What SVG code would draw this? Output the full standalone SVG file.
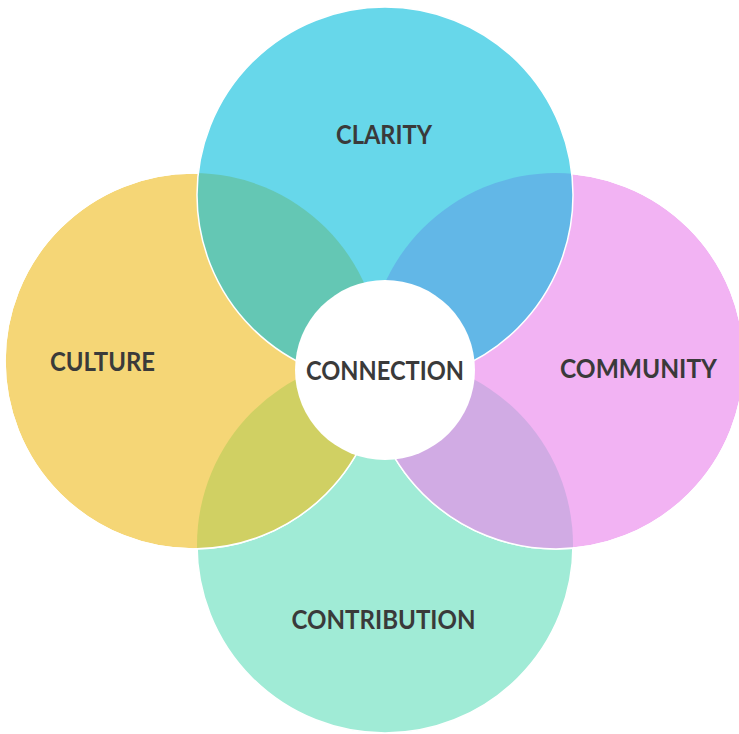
<svg xmlns="http://www.w3.org/2000/svg" width="739" height="734" viewBox="0 0 739 734">
  <defs>
    <style>
      .label { font-family: "Lato", "Open Sans", "Liberation Sans", sans-serif; font-weight: 700; font-size: 26px; fill: #3a3a3a; text-anchor: middle; }
      .edge { fill: none; stroke: #ffffff; stroke-width: 1.5; }
    </style>
    <!-- circle outlines reused for fills, clips and edges -->
    <circle id="c-top" cx="385" cy="195" r="188"/>
    <circle id="c-left" cx="193" cy="361" r="188"/>
    <circle id="c-right" cx="556" cy="361" r="188"/>
    <circle id="c-bottom" cx="385" cy="545" r="188"/>
    <clipPath id="clip-top"><use href="#c-top"/></clipPath>
    <clipPath id="clip-left"><use href="#c-left"/></clipPath>
    <clipPath id="clip-right"><use href="#c-right"/></clipPath>
    <clipPath id="clip-bottom"><use href="#c-bottom"/></clipPath>
  </defs>

  <rect width="739" height="734" fill="#ffffff"/>

  <!-- CONTRIBUTION (lowest layer) -->
  <g id="contribution">
    <use href="#c-bottom" fill="#a0ebd6" stroke="#ffffff" stroke-width="1.5"/>
    <text class="label" x="383.5" y="629" textLength="184" lengthAdjust="spacingAndGlyphs">CONTRIBUTION</text>
  </g>

  <!-- CULTURE -->
  <g id="culture">
    <use href="#c-left" fill="#f5d676" stroke="#ffffff" stroke-width="1.5"/>
    <text class="label" x="102.5" y="371" textLength="105" lengthAdjust="spacingAndGlyphs">CULTURE</text>
  </g>

  <!-- COMMUNITY -->
  <g id="community">
    <use href="#c-right" fill="#f2b3f3" stroke="#ffffff" stroke-width="1.5"/>
    <text class="label" x="638.5" y="378" textLength="157" lengthAdjust="spacingAndGlyphs">COMMUNITY</text>
  </g>

  <!-- lower overlaps: culture/contribution, community/contribution -->
  <g id="lower-overlaps">
    <use href="#c-left" fill="#d0d063" clip-path="url(#clip-bottom)"/>
    <use href="#c-right" fill="#d1abe4" clip-path="url(#clip-bottom)"/>
    <use href="#c-left" class="edge"/>
    <use href="#c-right" class="edge"/>
  </g>

  <!-- CLARITY (top layer) -->
  <g id="clarity">
    <use href="#c-top" fill="#67d7ea"/>
    <use href="#c-top" fill="#64c7b4" clip-path="url(#clip-left)"/>
    <use href="#c-top" fill="#62b7e7" clip-path="url(#clip-right)"/>
    <use href="#c-top" class="edge"/>
    <text class="label" x="384" y="144" textLength="96" lengthAdjust="spacingAndGlyphs">CLARITY</text>
  </g>

  <!-- CONNECTION hub -->
  <g id="connection">
    <circle cx="385" cy="370" r="90" fill="#ffffff"/>
    <text class="label" x="385" y="380" textLength="158" lengthAdjust="spacingAndGlyphs">CONNECTION</text>
  </g>

  <g id="connectors"/>
</svg>
